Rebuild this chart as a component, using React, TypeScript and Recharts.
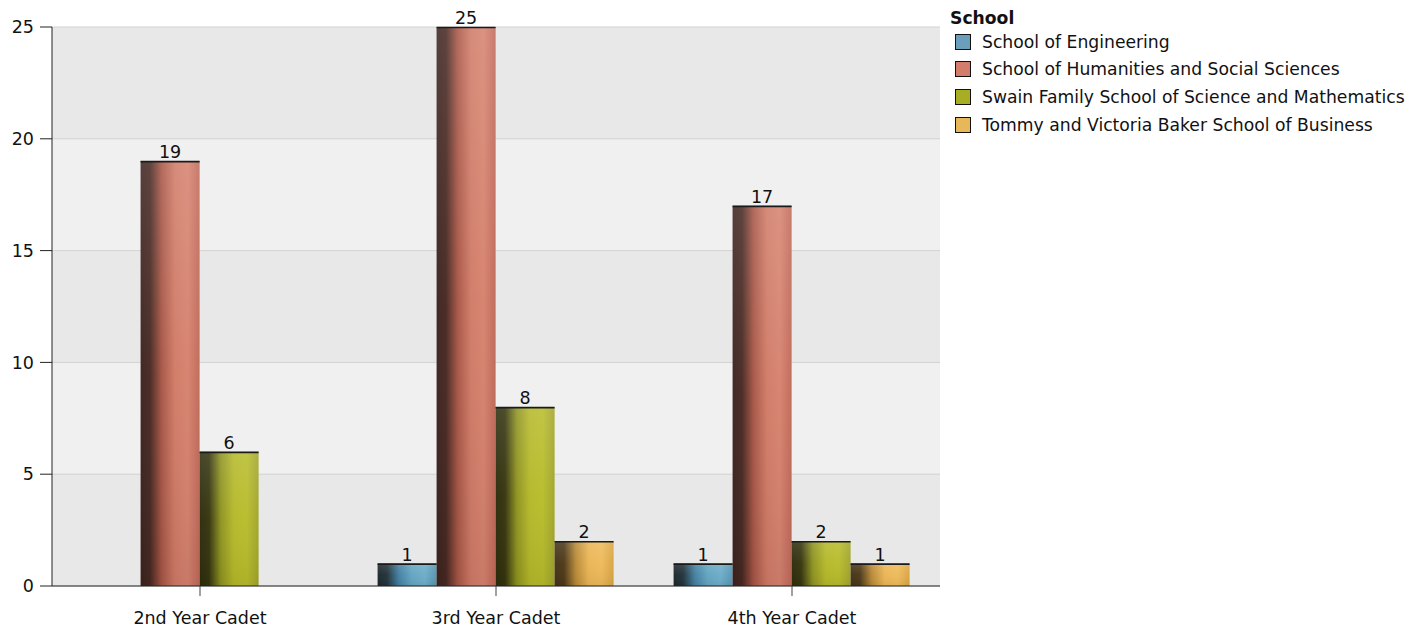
import React from "react";
import {
  BarChart,
  Bar,
  XAxis,
  YAxis,
  CartesianGrid,
  LabelList
} from "recharts";

const years = ["2nd Year Cadet", "3rd Year Cadet", "4th Year Cadet"];
const schools = [
  "School of Engineering",
  "School of Humanities and Social Sciences",
  "Swain Family School of Science and Mathematics",
  "Tommy and Victoria Baker School of Business"
];
const engineering = [null, 1, 1];
const humanities = [19, 25, 17];
const science = [6, 8, 2];
const business = [null, 2, 1];
const yTicks = [0, 5, 10, 15, 20, 25];

const keys = ["eng", "hum", "sci", "bus"];
const seriesValues = [engineering, humanities, science, business];

// dark edge on the left, bright middle, a bit darker on the right
const palette: Record<string, { stops: string[]; swatch: string }> = {
  eng: { stops: ["#1c262c", "#22323a", "#427fa0", "#62a4c0", "#6cacc8", "#5494b0"], swatch: "#6a9ebb" },
  hum: { stops: ["#3c221e", "#472822", "#a85646", "#d07a66", "#d6826e", "#c06858"], swatch: "#d47c6c" },
  sci: { stops: ["#2c2c0c", "#34340e", "#8e921f", "#b4b828", "#b8bc2a", "#a0a42a"], swatch: "#a8ae24" },
  bus: { stops: ["#443216", "#4c3818", "#b88937", "#eab454", "#eeba5a", "#d8a442"], swatch: "#e8b858" }
};
const offsets = ["0%", "16%", "36%", "58%", "80%", "100%"];

const data = years.map((y, i) => {
  const row: Record<string, any> = { year: y };
  keys.forEach((k, j) => (row[k] = seriesValues[j][i]));
  return row;
});

const font = "'DejaVu Sans', Verdana, sans-serif";

function GradBar(props: any) {
  const { x, y, width, height, dataKey } = props;
  if (!height || height <= 0) return null;
  return (
    <g>
      <rect x={x} y={y} width={width} height={height} fill={`url(#h-${dataKey})`} />
      <rect x={x} y={y} width={width} height={height} fill="url(#v-shade)" />
      <line x1={x} x2={x + width} y1={y + 0.5} y2={y + 0.5} stroke="#1a1a1a" strokeWidth={1.6} />
    </g>
  );
}

export default function App() {
  return (
    <div style={{ position: "relative", width: 1410, height: 621, fontFamily: font }}>
      <BarChart
        width={1410}
        height={621}
        data={data}
        margin={{ top: 19, right: 478, bottom: 0, left: 0 }}
        barCategoryGap="10%"
        barGap={0}
      >
        <defs>
          {keys.map(k => (
            <linearGradient key={k} id={`h-${k}`} x1="0" y1="0" x2="1" y2="0">
              {palette[k].stops.map((c, i) => (
                <stop key={i} offset={offsets[i]} stopColor={c} />
              ))}
            </linearGradient>
          ))}
          <linearGradient id="v-shade" x1="0" y1="0" x2="0" y2="1">
            <stop offset="0%" stopColor="#ffffff" stopOpacity={0.13} />
            <stop offset="50%" stopColor="#ffffff" stopOpacity={0.03} />
            <stop offset="100%" stopColor="#000000" stopOpacity={0.06} />
          </linearGradient>
        </defs>
        <CartesianGrid
          vertical={false}
          stroke="#d2d2d2"
          horizontalFill={["#e8e8e8", "#f0f0f0"]}
          fillOpacity={1}
        />
        <XAxis
          dataKey="year"
          height={43}
          tickSize={10}
          tickMargin={16}
          axisLine={{ stroke: "#222" }}
          tickLine={{ stroke: "#444" }}
          tick={{ fill: "#111", fontSize: 17.5, fontFamily: font }}
        />
        <YAxis
          width={44}
          domain={[0, 25]}
          ticks={yTicks}
          tickSize={12}
          tickMargin={6}
          axisLine={{ stroke: "#222" }}
          tickLine={{ stroke: "#222" }}
          tick={{ fill: "#111", fontSize: 17.5, fontFamily: font }}
        />
        {keys.map(k => (
          <Bar key={k} dataKey={k} isAnimationActive={false} shape={(p: any) => <GradBar {...p} dataKey={k} />}>
            <LabelList dataKey={k} position="top" offset={3} style={{ fill: "#111", fontSize: 17.5, fontFamily: font }} />
          </Bar>
        ))}
      </BarChart>
      <div style={{ position: "absolute", left: 942, top: 0, fontSize: 17.2, color: "#111" }}>
        <div style={{ fontWeight: "bold", lineHeight: "20px", height: 20 }}>School</div>
        {schools.map((s, i) => (
          <div key={s} style={{ display: "flex", alignItems: "center", height: 27.6 }}>
            <span
              style={{
                display: "inline-block",
                width: 14,
                height: 14,
                marginLeft: 5,
                marginRight: 11,
                border: "1.5px solid #111",
                background: palette[keys[i]].swatch
              }}
            />
            <span>{s}</span>
          </div>
        ))}
      </div>
    </div>
  );
}
